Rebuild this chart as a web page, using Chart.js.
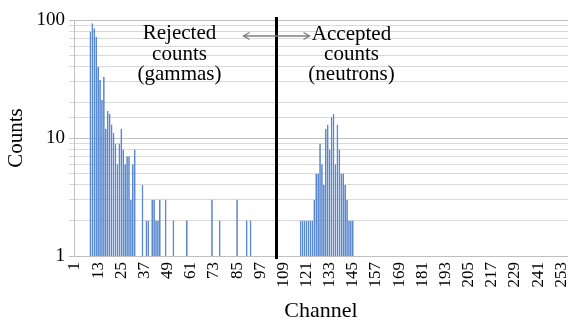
<!DOCTYPE html>
<html><head><meta charset="utf-8">
<script src="https://cdn.jsdelivr.net/npm/chart.js@4/dist/chart.umd.min.js"></script>
<style>html,body{margin:0;padding:0;background:#fff}#wrap{width:568px;height:324px}</style>
</head><body><div id="wrap"><canvas id="c" width="568" height="324"></canvas></div>
<script>
// Channel categories 1..256
const channelLabels = Array.from({length: 256}, (_, i) => String(i + 1));
// Channels that recorded counts, and their counts
const countChannels = [
  9,10,11,12,13,14,15,16,17,18,19,20,21,22,23,24,25,26,27,28,29,30,31,32,
  36,38,39,41,42,43,44,45,48,52,59,72,76,85,90,92,
  118,119,120,121,122,123,124,125,126,127,128,129,130,131,132,133,134,135,136,137,138,139,140,141,142,143,144,145
];
const countValues = [
  80,94,85,72,40,31,21,33,12,17,16,13,11,9,6,9,12,8,6,7,7,3,6,8,
  4,2,2,3,3,2,2,3,3,2,2,3,2,3,2,2,
  2,2,2,2,2,2,2,3,5,5,9,6,4,12,13,8,15,16,6,13,8,5,5,4,3,2,2,2
];
const xTickLabels = ['1','13','25','37','49','61','73','85','97','109','121','133','145','157','169','181','193','205','217','229','241','253'];
const yTickLabels = [1, 10, 100];
const thresholdChannel = '105';
const leftNote = ['Rejected', 'counts', '(gammas)'];
const rightNote = ['Accepted', 'counts', '(neutrons)'];

const countsByChannel = channelLabels.map(() => null);
countChannels.forEach((ch, k) => { countsByChannel[ch - 1] = countValues[k]; });

const FONT = 'Liberation Serif';

const overlay = {
  id: 'overlay',
  afterDatasetsDraw(chart) {
    const {ctx, chartArea: a, scales: {x}} = chart;
    const lx = Math.round(x.getPixelForValue(channelLabels.indexOf(thresholdChannel))) + 0.5;
    ctx.save();
    ctx.strokeStyle = '#000';
    ctx.lineWidth = 3;
    ctx.beginPath();
    ctx.moveTo(lx, a.top - 3);
    ctx.lineTo(lx, a.bottom + 3);
    ctx.stroke();

    ctx.font = '21px "' + FONT + '"';
    ctx.fillStyle = '#000';
    ctx.textAlign = 'center';
    ctx.textBaseline = 'alphabetic';
    leftNote.forEach((t, i) => ctx.fillText(t, lx - 97, 39 + i * 20.5));
    rightNote.forEach((t, i) => ctx.fillText(t, lx + 75, 40 + i * 20));

    // double-headed arrow
    const y = 36, x1 = lx - 33, x2 = lx + 33;
    ctx.strokeStyle = '#808080';
    ctx.lineWidth = 1.4;
    ctx.beginPath();
    ctx.moveTo(x1, y); ctx.lineTo(x2, y);
    ctx.moveTo(x1 + 6, y - 3.5); ctx.lineTo(x1, y); ctx.lineTo(x1 + 6, y + 3.5);
    ctx.moveTo(x2 - 6, y - 3.5); ctx.lineTo(x2, y); ctx.lineTo(x2 - 6, y + 3.5);
    ctx.stroke();
    ctx.restore();
  }
};

new Chart(document.getElementById('c'), {
  type: 'bar',
  data: {
    labels: channelLabels,
    datasets: [{
      data: countsByChannel,
      backgroundColor: '#a3c0e8',
      borderColor: '#5a88cf',
      borderWidth: 1,
      barPercentage: 0.9,
      categoryPercentage: 1.0
    }]
  },
  options: {
    responsive: false,
    animation: false,
    devicePixelRatio: 1,
    layout: {padding: {top: 20, right: 0, left: 0, bottom: 0}},
    plugins: {legend: {display: false}, tooltip: {enabled: false}},
    scales: {
      x: {
        type: 'category',
        afterFit(s) { s.height = 68; s.paddingRight = 0; s.paddingLeft = 0; },
        grid: {display: false, drawTicks: false},
        border: {display: true, color: '#bfbfbf', width: 1},
        ticks: {
          autoSkip: false, maxRotation: 90, minRotation: 90, padding: 6,
          font: {family: FONT, size: 17}, color: '#000',
          callback: (v, i) => xTickLabels.includes(channelLabels[i]) ? channelLabels[i] : ''
        },
        title: {display: true, text: 'Channel', font: {family: FONT, size: 22}, color: '#000', padding: {top: 0, bottom: 0}}
      },
      y: {
        type: 'logarithmic', min: 1, max: 100,
        afterFit(s) { s.width = 74; },
        grid: {
          color: c => (c.tick && yTickLabels.includes(c.tick.value)) ? '#c0c0c0' : '#d9d9d9',
          tickLength: 5, lineWidth: 1
        },
        border: {display: true, color: '#bfbfbf', width: 1},
        ticks: {
          autoSkip: false, padding: 4,
          font: {family: FONT, size: 19}, color: '#000',
          callback: v => yTickLabels.includes(v) ? String(v) : ''
        },
        title: {display: true, text: 'Counts', font: {family: FONT, size: 21}, color: '#000', padding: {top: 4, bottom: 0}}
      }
    }
  },
  plugins: [overlay]
});
</script>
</body></html>
